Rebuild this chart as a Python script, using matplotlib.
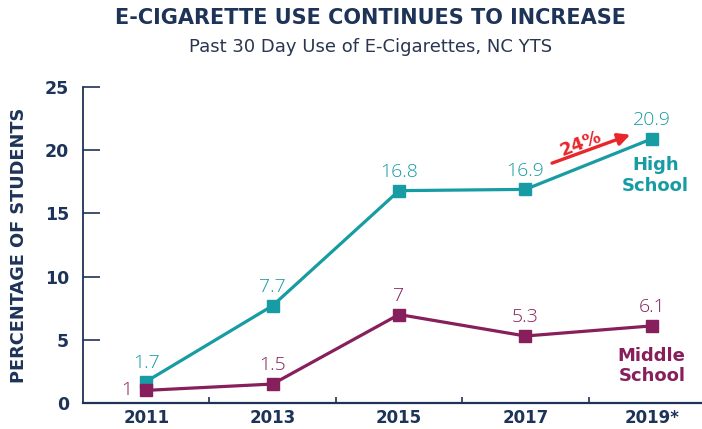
import matplotlib.pyplot as plt

years = ["2011", "2013", "2015", "2017", "2019*"]
high_school = [1.7, 7.7, 16.8, 16.9, 20.9]
middle_school = [1, 1.5, 7, 5.3, 6.1]
high_labels = ["1.7", "7.7", "16.8", "16.9", "20.9"]
middle_labels = ["1", "1.5", "7", "5.3", "6.1"]

teal = "#169CA2"
purple = "#861F5B"
navy = "#1E3358"
red = "#E8262C"

fig = plt.figure(figsize=(7.02, 4.29), dpi=100)
ax = fig.add_axes([83 / 702, 26 / 429, 632 / 702, 316 / 429])

x = list(range(len(years)))
ax.plot(x, high_school, color=teal, lw=2.3, marker="s", ms=8.5, zorder=3)
ax.plot(x, middle_school, color=purple, lw=2.3, marker="s", ms=8.5, zorder=4)

lab_kw = dict(textcoords="offset points", fontsize=14, family="Open Sans",
              fontweight="light")
for i, (v, t) in enumerate(zip(high_school, high_labels)):
    ax.annotate(t, (i, v), xytext=(0, 7), ha="center", va="bottom",
                color=teal, **lab_kw)
for i, (v, t) in enumerate(zip(middle_school, middle_labels)):
    if i == 0:
        ax.annotate(t, (i, v), xytext=(-10, 0), ha="right", va="center",
                    color=purple, **lab_kw)
    else:
        ax.annotate(t, (i, v), xytext=(0, 7), ha="center", va="bottom",
                    color=purple, **lab_kw)

# series labels
ax.text(4.03, 18.0, "High\nSchool", color=teal, fontsize=13, fontweight="bold",
        ha="center", va="center", linespacing=1.15)
ax.text(4.0, 2.9, "Middle\nSchool", color=purple, fontsize=13, fontweight="bold",
        ha="center", va="center", linespacing=1.15)

# 24% arrow
ax.annotate("", xy=(3.85, 21.3), xytext=(3.19, 18.9),
            arrowprops=dict(arrowstyle="-|>", color=red, lw=2.4,
                            mutation_scale=18))
ax.text(3.44, 20.5, "24%", color=red, fontsize=13, fontweight="bold",
        ha="center", va="center", rotation=21)

ax.set_xlim(-0.5, 4.5)
ax.set_ylim(0, 25)
ax.set_yticks([0, 5, 10, 15, 20, 25])
ax.set_xticks(x)
ax.set_xticklabels(years)
ax.set_xticks([0.5, 1.5, 2.5, 3.5], minor=True)

for s in ["top", "right"]:
    ax.spines[s].set_visible(False)
ax.spines["left"].set_color(navy)
ax.spines["bottom"].set_color(navy)
ax.spines["left"].set_linewidth(1.3)
ax.spines["bottom"].set_linewidth(1.6)

ax.tick_params(axis="y", direction="in", length=12, width=1.2, color=navy,
               labelcolor=navy, labelsize=12.5, pad=10)
ax.tick_params(axis="x", which="major", length=0, labelcolor=navy,
               labelsize=12, pad=4.5)
ax.tick_params(axis="x", which="minor", direction="in", length=4, width=1.2,
               color=navy)
for lbl in ax.get_xticklabels() + ax.get_yticklabels():
    lbl.set_fontweight("bold")

ax.set_ylabel("PERCENTAGE OF STUDENTS", color=navy, fontsize=12.8,
              fontweight="bold", labelpad=12)

fig.text(370 / 702, 1 - 18 / 429, "E-CIGARETTE USE CONTINUES TO INCREASE",
         ha="center", va="center", color=navy, fontsize=15, fontweight="bold")
fig.text(371 / 702, 1 - 47 / 429, "Past 30 Day Use of E-Cigarettes, NC YTS",
         ha="center", va="center", color="#2A3550", fontsize=13)

fig.savefig("out.png", dpi=100)
